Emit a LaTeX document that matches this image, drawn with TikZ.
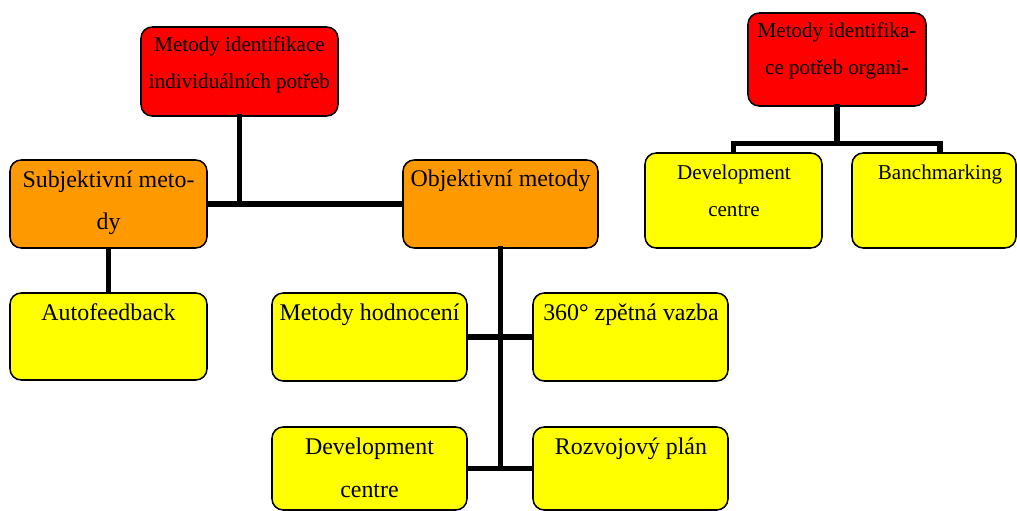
\documentclass[tikz,border=0pt]{standalone}
\usepackage{fontspec}
\setmainfont{Liberation Serif}
\usepackage{tikz}

\definecolor{boxred}{HTML}{FF0000}
\definecolor{boxorange}{HTML}{FF9900}
\definecolor{boxyellow}{HTML}{FFFF00}

\tikzset{
    box/.style={draw, line width=1.1pt, rounded corners=8pt, inner sep=0pt},
    boxsize/.style 2 args={minimum width=#1*0.025cm, minimum height=#2*0.025cm},
    redbox/.style={box, fill=boxred},
    orangebox/.style={box, fill=boxorange},
    yellowbox/.style={box, fill=boxyellow},
    lbl/.style={anchor=base, align=center, inner sep=0pt, font=\fontsize{17}{30.5}\selectfont},
    slbl/.style={lbl, font=\fontsize{15}{26.5}\selectfont},
    link/.style={line width=3.8pt}
}

\begin{document}
\begin{tikzpicture}[x=0.025cm, y=-0.025cm]
    \useasboundingbox (0,0) rectangle (1017,511);

    % individual needs
    \node[redbox, boxsize={197}{89}] (indiv) at (239.5,71.5) {};
    \node[orangebox, boxsize={197}{88}] (subj) at (108.5,204) {};
    \node[orangebox, boxsize={195}{88}] (obj) at (500.5,204) {};
    \node[yellowbox, boxsize={197}{87}] (auto) at (108.5,336.5) {};
    \node[yellowbox, boxsize={195}{88}] (hodn) at (369.5,337) {};
    \node[yellowbox, boxsize={195}{88}] (zpet) at (630.5,337) {};
    \node[yellowbox, boxsize={195}{83}] (devl) at (369.5,468.5) {};
    \node[yellowbox, boxsize={195}{83}] (rozv) at (630.5,468.5) {};

    % organisation needs
    \node[redbox, boxsize={178}{93}] (org) at (837,59.5) {};
    \node[yellowbox, boxsize={177}{95}] (devr) at (733.5,200.5) {};
    \node[yellowbox, boxsize={164}{95}] (banch) at (934,200.5) {};

    % texts (base = last line)
    \node[slbl] (indivt) at (239.5,89) {Metody identifikace\\individuálních potřeb};
    \node[lbl] (subjt) at (108.5,230) {Subjektivní meto-\\dy};
    \node[lbl] (objt) at (500.5,187) {Objektivní metody};
    \node[lbl] (autot) at (108.5,320) {Autofeedback};
    \node[lbl] (hodnt) at (369.5,320) {Metody hodnocení};
    \node[lbl] (zpett) at (631,320) {360° zpětná vazba};
    \node[lbl] (devlt) at (369.5,497) {Development\\centre};
    \node[lbl] (rozvt) at (631,454) {Rozvojový plán};
    \node[slbl] (orgt) at (837,75) {Metody identifika-\\ce potřeb organi-};
    \node[slbl] (devrt) at (734,217) {Development\\centre};
    \node[slbl] (bancht) at (940,180) {Banchmarking};

    \draw[link, line cap=rect] (indiv.south) -- (indiv.south |- subj.east);
    \draw[link] (subj.east) -- (obj.west);
    \draw[link] (subj.south) -- (auto.north);
    \draw[link, line cap=rect] (obj.south) -- (obj.south |- devl.east);
    \draw[link] (hodn.east) -- (zpet.west);
    \draw[link] (devl.east) -- (rozv.west);

    \draw[link, line cap=rect] (org.south) -- ++(0,37) coordinate (orgj);
    \draw[link] (devr.north) |- (orgj) -| ([xshift=0.15cm]banch.north);
\end{tikzpicture}
\end{document}
